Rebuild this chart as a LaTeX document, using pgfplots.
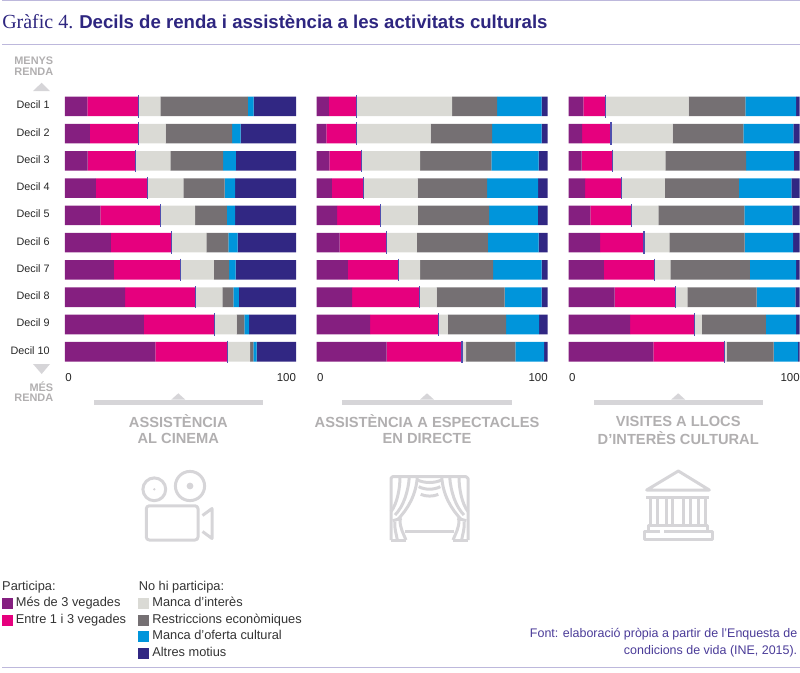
\documentclass[border=0pt]{standalone}
\usepackage{pgfplots}
\usepackage{pgfplotstable}
\usepackage{fontspec}
\pgfplotsset{compat=1.18}
\setmainfont{Liberation Sans}
\newfontfamily\serifttl{Liberation Serif}
\definecolor{cA}{HTML}{851F80}
\definecolor{cB}{HTML}{E6007E}
\definecolor{cC}{HTML}{DADAD5}
\definecolor{cD}{HTML}{757073}
\definecolor{cE}{HTML}{0095DB}
\definecolor{cF}{HTML}{312783}
\definecolor{navy}{HTML}{2E2680}
\definecolor{rulec}{HTML}{BDB8DC}
\definecolor{lab}{HTML}{B1AFB0}
\definecolor{icon}{HTML}{D6D5D8}
\definecolor{srcc}{HTML}{4A3B98}
\definecolor{sepc}{HTML}{4F4FAE}
% y  a: >3 times, b: 1-3 times, c: no interest, d: economic, e: no offer, f: other, p: a+b
\pgfplotstableread{
y a b c d e f p
1 9.7 22.0 9.6 37.9 2.5 18.3 31.7
2 10.8 20.9 11.9 28.7 3.7 24.0 31.7
3 9.8 20.8 15.0 22.9 5.5 26.0 30.6
4 13.4 22.4 15.4 17.9 4.6 26.3 35.8
5 15.3 26.1 14.9 13.8 3.6 26.3 41.4
6 19.9 26.3 15.0 9.5 4.0 25.3 46.2
7 21.2 28.7 14.5 6.7 2.8 26.1 49.9
8 26.0 30.3 11.8 4.8 2.4 24.7 56.3
9 34.1 30.5 9.7 3.3 2.1 20.3 64.6
10 39.1 31.3 9.7 1.4 1.5 17.0 70.4
}\tblA
\pgfplotstableread{
y a b c d e f p
1 5.3 12.0 41.3 19.5 19.3 2.6 17.3
2 4.2 13.1 32.0 26.6 21.5 2.6 17.3
3 5.5 13.7 25.6 30.8 20.5 3.9 19.2
4 6.6 13.7 23.4 30.1 22.0 4.2 20.3
5 8.8 18.7 16.3 30.8 21.1 4.3 27.5
6 9.9 20.4 13.1 30.7 22.0 3.9 30.3
7 13.5 22.1 9.2 31.6 21.0 2.6 35.6
8 15.3 29.1 7.5 29.4 16.1 2.6 44.4
9 23.1 29.5 4.2 25.2 14.3 3.7 52.6
10 30.3 32.6 1.8 21.3 12.4 1.6 62.9
}\tblB
\pgfplotstableread{
y a b c d e f p
1 6.3 9.6 36.0 24.6 21.9 1.6 15.9
2 5.8 12.5 26.7 30.6 21.7 2.7 18.3
3 5.6 13.2 23.0 35.0 20.7 2.5 18.8
4 7.1 15.8 18.7 32.1 22.7 3.6 22.9
5 9.4 17.7 11.7 37.2 20.8 3.2 27.1
6 13.6 19.0 11.0 32.6 20.9 2.9 32.6
7 15.2 22.0 6.8 34.4 20.0 1.6 37.2
8 19.9 26.4 5.1 30.0 16.7 1.9 46.3
9 26.6 27.8 3.2 27.8 13.0 1.6 54.4
10 36.7 30.8 0.9 20.3 10.6 0.7 67.5
}\tblC
\pgfplotsset{
  panel/.style={
    scale only axis, width=173.25pt, height=204.5pt, anchor=north west,
    xmin=0, xmax=100, ymin=0.5, ymax=10.5, y dir=reverse,
    axis line style={draw=none}, tick style={draw=none},
    xtick={0,100},
    xticklabels={\makebox[0pt][l]{\hspace{0.3pt}0},\makebox[0pt][r]{100}},
    x tick label style={font=\fontsize{8.6}{11}\selectfont, text=black!85, yshift=-2.2pt},
    ytick=\empty, clip=false,
  },
  barsty/.style={panel, xbar stacked, bar width=14.7pt},
  seg/.style={draw=none, fill=#1, forget plot},
  sw/.style={legend image code/.code={\fill[#1] (0pt,-3.75pt) rectangle (7.6pt,3.75pt);}},
}
\newcommand{\bars}[1]{%
  \addplot[seg=cA] table[x=a,y=y]{#1};
  \addplot[seg=cB] table[x=b,y=y]{#1};
  \addplot[seg=cC] table[x=c,y=y]{#1};
  \addplot[seg=cD] table[x=d,y=y]{#1};
  \addplot[seg=cE] table[x=e,y=y]{#1};
  \addplot[seg=cF] table[x=f,y=y]{#1};
}
\newcommand{\sepline}[2]{%
  \begin{axis}[panel, at={(#1,-69.525pt)}, xtick=\empty]
    \addplot[only marks, mark=|, mark size=8.4pt, mark options={draw=sepc, line width=0.8pt}] table[x=p,y=y]{#2};
  \end{axis}}
\begin{document}
\begin{tikzpicture}[x=0.75pt,y=-0.75pt]
\path[use as bounding box] (0,0) rectangle (800,672);
% rules and title
\draw[rulec, line width=0.8pt] (2,0.6) -- (800,0.6);
\draw[rulec, line width=0.8pt] (2,44.3) -- (800,44.3);
\draw[rulec, line width=0.8pt] (2,667.6) -- (800,667.6);
\node[anchor=base west, inner sep=0, text=navy, font=\serifttl\fontsize{15}{18}\selectfont] at (2,28.3) {Gràfic 4.};
\node[anchor=base west, inner sep=0, text=navy, font=\bfseries\fontsize{13.95}{18}\selectfont] at (79,28.3) {Decils de renda i assistència a les activitats culturals};
% panel 1
\begin{axis}[barsty, at={(48.75pt,-69.525pt)},
  ytick={1,...,10},
  yticklabels={Decil 1,Decil 2,Decil 3,Decil 4,Decil 5,Decil 6,Decil 7,Decil 8,Decil 9,Decil 10},
  y tick label style={font=\fontsize{8.1}{11}\selectfont, text=black!85, anchor=east, xshift=-8pt, yshift=1.1pt},
  legend columns=2,
  legend cell align=left,
  legend style={draw=none, fill=none, anchor=north west,
    at={(axis description cs:-0.274,-0.783)},
    inner sep=0pt, outer sep=0pt, column sep=0pt, row sep=0pt,
    font=\fontsize{9.6}{11}\selectfont,
    text=black!80,
    nodes={inner sep=0pt, outer sep=0pt, text height=8.6pt, text depth=3.8pt},
    /tikz/every even column/.append style={column sep=0pt},
  },
]
  \bars{\tblA}
  \addlegendimage{empty legend}\addlegendentry{\hspace*{-7.6pt}\makebox[94.4pt][l]{Participa:}}
  \addlegendimage{empty legend}\addlegendentry{\hspace*{-7.6pt}No hi participa:}
  \addlegendimage{sw=cA}\addlegendentry{\hspace*{2.6pt}\makebox[91.8pt][l]{Més de 3 vegades}}
  \addlegendimage{sw=cC}\addlegendentry{\hspace*{2.6pt}Manca d’interès}
  \addlegendimage{sw=cB}\addlegendentry{\hspace*{2.6pt}\makebox[91.8pt][l]{Entre 1 i 3 vegades}}
  \addlegendimage{sw=cD}\addlegendentry{\hspace*{2.6pt}Restriccions econòmiques}
  \addlegendimage{empty legend}\addlegendentry{}
  \addlegendimage{sw=cE}\addlegendentry{\hspace*{2.6pt}Manca d’oferta cultural}
  \addlegendimage{empty legend}\addlegendentry{}
  \addlegendimage{sw=cF}\addlegendentry{\hspace*{2.6pt}Altres motius}
\end{axis}
\sepline{48.75pt}{\tblA}
\begin{axis}[barsty, at={(237.525pt,-69.525pt)}] \bars{\tblB} \end{axis}
\sepline{237.525pt}{\tblB}
\begin{axis}[barsty, at={(426.525pt,-69.525pt)}] \bars{\tblC} \end{axis}
\sepline{426.525pt}{\tblC}
% income direction
\tikzset{inc/.style={anchor=east, inner sep=0, text=lab, font=\bfseries\fontsize{8.2}{9}\selectfont}}
\node[inc] at (53.5,61) {MENYS};
\node[inc] at (53.5,71.5) {RENDA};
\fill[icon] (33,91) -- (41.7,82.7) -- (50,91) -- cycle;
\fill[icon] (33,364) -- (41.7,374) -- (50,364) -- cycle;
\node[inc] at (53.5,387) {MÉS};
\node[inc] at (53.5,398) {RENDA};
% connector brackets
\foreach \a/\b/\c in {93.7/263/178.3,342.3/511.7/427,593.7/762.7/678.2}{
  \fill[icon] (\a,399.5) rectangle (\b,404.7);
  \fill[icon] (\c-7,399.6) -- (\c,393.3) -- (\c+7,399.6) -- cycle;
}
% panel names
\tikzset{pn/.style={inner sep=0, text=lab, font=\bfseries\fontsize{11}{13}\selectfont}}
\node[pn] at (178.3,421.3) {ASSISTÈNCIA};
\node[pn] at (178.3,438.5) {AL CINEMA};
\node[pn] at (427,421.3) {ASSISTÈNCIA A ESPECTACLES};
\node[pn] at (427,438.5) {EN DIRECTE};
\node[pn] at (678.2,421.3) {VISITES A LLOCS};
\node[pn] at (678.2,438.5) {D’INTERÈS CULTURAL};
% camera icon
\begin{scope}[icon, line width=2.25pt, line join=round]
  \draw (190,486) circle (14.6);
  \fill (190,486) circle (3.4);
  \draw (154.3,489.3) circle (11.4);
  \fill (154.3,489.3) circle (1.3);
  \draw[rounded corners=2.2pt] (146.3,505.8) rectangle (198,540);
  \draw (202.5,515.5) -- (212,508.5) -- (212,538.5) -- (202.5,531.5);
\end{scope}
% curtain icon
\begin{scope}[shift={(380,465)}, x=0.25pt, y=-0.25pt, icon, line width=2.25pt, line join=round]
  \draw (33,225) -- (33,40) -- (38,35) -- (258,35) -- (264,40) -- (264,225);
  \draw (75,200) -- (222,200);
  \foreach \s/\o in {1/0,-1/297}{
    \begin{scope}[shift={(\o,0)}, xscale=\s]
      \draw (112,35) .. controls (108,90) and (85,130) .. (52,165);
      \draw (88,35) .. controls (85,80) and (70,125) .. (45,150);
      \draw (60,35) .. controls (60,70) and (52,115) .. (33,140);
      \draw (38,167) -- (65,160);
      \draw (60,165) .. controls (60,190) and (70,205) .. (78,225);
      \draw (45,170) .. controls (42,190) and (50,210) .. (52,225);
      \draw (33,225) -- (78,225);
    \end{scope}
  }
  \draw (112,45) .. controls (135,55) and (162,55) .. (185,45);
  \draw (116,65) .. controls (135,75) and (162,75) .. (181,65);
  \draw (122,88) .. controls (138,95) and (160,95) .. (175,88);
\end{scope}
% temple icon
\begin{scope}[shift={(630,465)}, x=0.25pt, y=-0.25pt, icon, line width=2.25pt, line join=round]
  \draw (50,75) -- (145,18) -- (238,75) -- cycle;
  \draw (48,96) -- (238,96);
  \foreach \c in {62,82,108,128,160,180,206,226}{\draw (\c,98) -- (\c,176);}
  \draw (56,200) -- (56,180) -- (232,180) -- (232,200);
  \draw (90,200) -- (43,200) -- (43,224) -- (247,224) -- (247,200) -- (102,200);
\end{scope}
% source
\node[anchor=east, inner sep=0, text=srcc, font=\fontsize{9.35}{11}\selectfont] at (797.5,634.5) {Font: elaboració pròpia a partir de l’Enquesta de};
\node[anchor=east, inner sep=0, text=srcc, font=\fontsize{9.35}{11}\selectfont] at (797.5,651.7) {condicions de vida (INE, 2015).};
\end{tikzpicture}
\end{document}
